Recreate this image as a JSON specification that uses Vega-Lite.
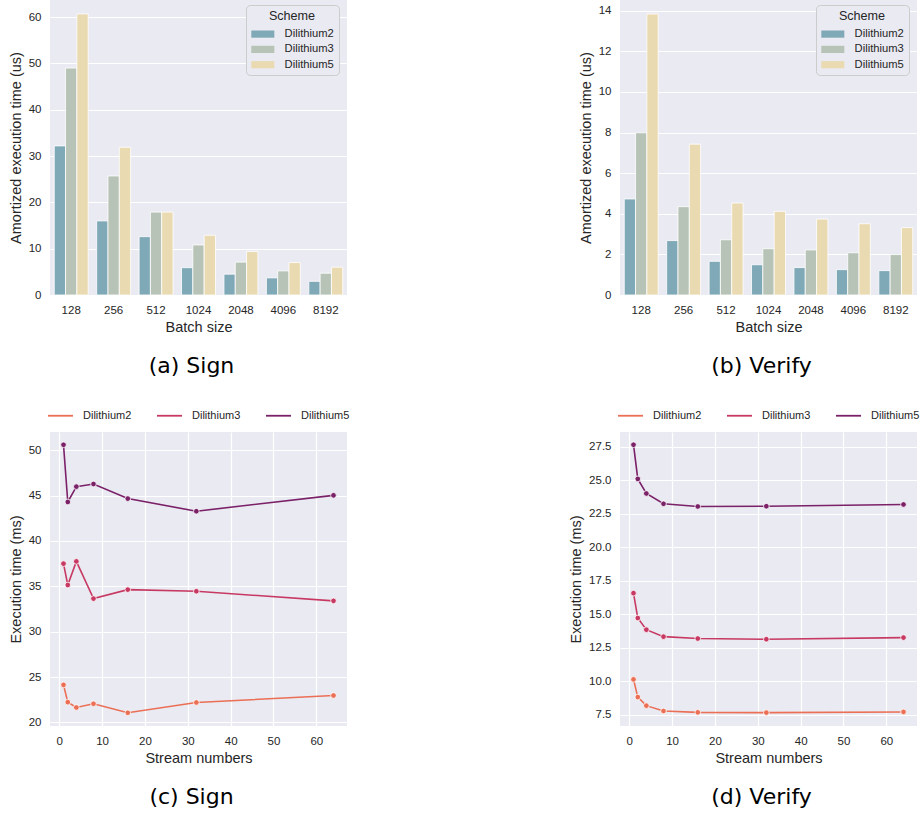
{
  "$schema": "https://vega.github.io/schema/vega-lite/v6.json",
  "padding": {"left": 8, "top": 0, "right": 0, "bottom": 0},
  "background": "white",
  "datasets": {
    "bars": [
      {"batch": "128", "scheme": "Dilithium2", "sign": 32.2, "verify": 4.73},
      {"batch": "128", "scheme": "Dilithium3", "sign": 49.0, "verify": 7.99},
      {"batch": "128", "scheme": "Dilithium5", "sign": 60.7, "verify": 13.84},
      {"batch": "256", "scheme": "Dilithium2", "sign": 16.0, "verify": 2.68},
      {"batch": "256", "scheme": "Dilithium3", "sign": 25.7, "verify": 4.35},
      {"batch": "256", "scheme": "Dilithium5", "sign": 31.9, "verify": 7.43},
      {"batch": "512", "scheme": "Dilithium2", "sign": 12.6, "verify": 1.66},
      {"batch": "512", "scheme": "Dilithium3", "sign": 17.9, "verify": 2.72},
      {"batch": "512", "scheme": "Dilithium5", "sign": 17.9, "verify": 4.53},
      {"batch": "1024", "scheme": "Dilithium2", "sign": 5.9, "verify": 1.49},
      {"batch": "1024", "scheme": "Dilithium3", "sign": 10.8, "verify": 2.28},
      {"batch": "1024", "scheme": "Dilithium5", "sign": 12.9, "verify": 4.12},
      {"batch": "2048", "scheme": "Dilithium2", "sign": 4.5, "verify": 1.35},
      {"batch": "2048", "scheme": "Dilithium3", "sign": 7.1, "verify": 2.22},
      {"batch": "2048", "scheme": "Dilithium5", "sign": 9.4, "verify": 3.74},
      {"batch": "4096", "scheme": "Dilithium2", "sign": 3.7, "verify": 1.25},
      {"batch": "4096", "scheme": "Dilithium3", "sign": 5.2, "verify": 2.08},
      {"batch": "4096", "scheme": "Dilithium5", "sign": 7.0, "verify": 3.51},
      {"batch": "8192", "scheme": "Dilithium2", "sign": 2.95, "verify": 1.2},
      {"batch": "8192", "scheme": "Dilithium3", "sign": 4.7, "verify": 1.99},
      {"batch": "8192", "scheme": "Dilithium5", "sign": 6.0, "verify": 3.32}
    ],
    "lines": [
      {"streams": 1, "scheme": "Dilithium2", "sign": 24.13, "verify": 10.13},
      {"streams": 2, "scheme": "Dilithium2", "sign": 22.23, "verify": 8.81},
      {"streams": 4, "scheme": "Dilithium2", "sign": 21.64, "verify": 8.17},
      {"streams": 8, "scheme": "Dilithium2", "sign": 22.05, "verify": 7.77},
      {"streams": 16, "scheme": "Dilithium2", "sign": 21.06, "verify": 7.67},
      {"streams": 32, "scheme": "Dilithium2", "sign": 22.19, "verify": 7.65},
      {"streams": 64, "scheme": "Dilithium2", "sign": 22.96, "verify": 7.7},
      {"streams": 1, "scheme": "Dilithium3", "sign": 37.49, "verify": 16.57},
      {"streams": 2, "scheme": "Dilithium3", "sign": 35.14, "verify": 14.71},
      {"streams": 4, "scheme": "Dilithium3", "sign": 37.74, "verify": 13.84},
      {"streams": 8, "scheme": "Dilithium3", "sign": 33.64, "verify": 13.32},
      {"streams": 16, "scheme": "Dilithium3", "sign": 34.63, "verify": 13.18},
      {"streams": 32, "scheme": "Dilithium3", "sign": 34.45, "verify": 13.13},
      {"streams": 64, "scheme": "Dilithium3", "sign": 33.39, "verify": 13.25},
      {"streams": 1, "scheme": "Dilithium5", "sign": 50.59, "verify": 27.65},
      {"streams": 2, "scheme": "Dilithium5", "sign": 44.29, "verify": 25.1},
      {"streams": 4, "scheme": "Dilithium5", "sign": 45.98, "verify": 24.01},
      {"streams": 8, "scheme": "Dilithium5", "sign": 46.27, "verify": 23.24},
      {"streams": 16, "scheme": "Dilithium5", "sign": 44.66, "verify": 23.04},
      {"streams": 32, "scheme": "Dilithium5", "sign": 43.27, "verify": 23.06},
      {"streams": 64, "scheme": "Dilithium5", "sign": 45.02, "verify": 23.19}
    ]
  },
  "bounds": "flush",
  "columns": 2,
  "spacing": {"row": 137, "column": 273},
  "concat": [
    {
      "width": 297, "height": 295,
      "data": {"name": "bars"},
      "title": {"text": "(a) Sign"},
      "mark": {"type": "bar", "stroke": "white", "strokeWidth": 0.8},
      "encoding": {
        "x": {"field": "batch", "type": "ordinal", "sort": ["128","256","512","1024","2048","4096","8192"], "scale": {"paddingInner": 0.2, "paddingOuter": 0.1}, "axis": {"title": "Batch size", "labelAngle": 0, "grid": false}},
        "xOffset": {"field": "scheme", "type": "nominal", "scale": {"paddingInner": 0, "paddingOuter": 0}},
        "y": {"field": "sign", "type": "quantitative", "scale": {"domain": [0, 63.7], "nice": false, "zero": true}, "axis": {"title": "Amortized execution time (us)", "values": [0,10,20,30,40,50,60]}},
        "color": {"field": "scheme", "type": "nominal", "scale": {"domain": ["Dilithium2","Dilithium3","Dilithium5"], "range": ["#80a9b8","#b6c3b6","#e9dab1"]},
          "legend": {"orient": "none", "legendX": 196, "legendY": 5, "title": "Scheme", "titleFontSize": 12.6, "titleFontWeight": "normal", "titleAnchor": "middle", "titleAlign": "center", "titlePadding": 4, "symbolType": "M-1,-0.5H2.2V0.5H-1Z", "symbolSize": 207, "symbolStrokeWidth": 0, "symbolOpacity": 1, "labelOffset": 18.6, "labelFontSize": 11.2, "rowPadding": 2.3, "padding": 5, "fillColor": "#eaeaf2", "strokeColor": "#cccccc", "cornerRadius": 4}}
      }
    },
    {
      "width": 297, "height": 295,
      "data": {"name": "bars"},
      "title": {"text": "(b) Verify"},
      "mark": {"type": "bar", "stroke": "white", "strokeWidth": 0.8},
      "encoding": {
        "x": {"field": "batch", "type": "ordinal", "sort": ["128","256","512","1024","2048","4096","8192"], "scale": {"paddingInner": 0.2, "paddingOuter": 0.1}, "axis": {"title": "Batch size", "labelAngle": 0, "grid": false}},
        "xOffset": {"field": "scheme", "type": "nominal", "scale": {"paddingInner": 0, "paddingOuter": 0}},
        "y": {"field": "verify", "type": "quantitative", "scale": {"domain": [0, 14.53], "nice": false, "zero": true}, "axis": {"title": "Amortized execution time (us)", "values": [0,2,4,6,8,10,12,14]}},
        "color": {"field": "scheme", "type": "nominal", "scale": {"domain": ["Dilithium2","Dilithium3","Dilithium5"], "range": ["#80a9b8","#b6c3b6","#e9dab1"]},
          "legend": {"orient": "none", "legendX": 196, "legendY": 5, "title": "Scheme", "titleFontSize": 12.6, "titleFontWeight": "normal", "titleAnchor": "middle", "titleAlign": "center", "titlePadding": 4, "symbolType": "M-1,-0.5H2.2V0.5H-1Z", "symbolSize": 207, "symbolStrokeWidth": 0, "symbolOpacity": 1, "labelOffset": 18.6, "labelFontSize": 11.2, "rowPadding": 2.3, "padding": 5, "fillColor": "#eaeaf2", "strokeColor": "#cccccc", "cornerRadius": 4}}
      }
    },
    {
      "width": 297, "height": 294,
      "data": {"name": "lines"},
      "title": {"text": "(c) Sign"},
      "encoding": {
        "x": {"field": "streams", "type": "quantitative", "scale": {"domain": [-2.15, 67.15], "nice": false, "zero": false}, "axis": {"title": "Stream numbers", "values": [0,10,20,30,40,50,60]}},
        "y": {"field": "sign", "type": "quantitative", "scale": {"domain": [19.6, 52.0], "nice": false, "zero": false}, "axis": {"title": "Execution time (ms)", "values": [20,25,30,35,40,45,50]}}
      },
      "layer": [
        {
          "mark": {"type": "line", "strokeWidth": 1.6},
          "encoding": {
            "color": {"field": "scheme", "type": "nominal", "scale": {"domain": ["Dilithium2","Dilithium3","Dilithium5"], "range": ["#eb6f55","#c73962","#7b2168"]},
              "legend": {"orient": "none", "legendX": -3, "legendY": -30, "direction": "horizontal", "title": null, "symbolType": "stroke", "symbolSize": 625, "symbolStrokeWidth": 1.8, "labelOffset": 9, "columnPadding": 21, "labelFontSize": 11, "padding": 0}}
          }
        },
        {
          "mark": {"type": "point", "filled": true, "size": 32, "stroke": "white", "strokeWidth": 0.8, "opacity": 1},
          "encoding": {
            "fill": {"field": "scheme", "type": "nominal", "scale": {"domain": ["Dilithium2","Dilithium3","Dilithium5"], "range": ["#eb6f55","#c73962","#7b2168"]}, "legend": null}
          }
        }
      ]
    },
    {
      "width": 297, "height": 294,
      "data": {"name": "lines"},
      "title": {"text": "(d) Verify"},
      "encoding": {
        "x": {"field": "streams", "type": "quantitative", "scale": {"domain": [-2.15, 67.15], "nice": false, "zero": false}, "axis": {"title": "Stream numbers", "values": [0,10,20,30,40,50,60]}},
        "y": {"field": "verify", "type": "quantitative", "scale": {"domain": [6.65, 28.6], "nice": false, "zero": false}, "axis": {"title": "Execution time (ms)", "values": [7.5,10,12.5,15,17.5,20,22.5,25,27.5], "format": ".1f"}}
      },
      "layer": [
        {
          "mark": {"type": "line", "strokeWidth": 1.6},
          "encoding": {
            "color": {"field": "scheme", "type": "nominal", "scale": {"domain": ["Dilithium2","Dilithium3","Dilithium5"], "range": ["#eb6f55","#c73962","#7b2168"]},
              "legend": {"orient": "none", "legendX": -3, "legendY": -30, "direction": "horizontal", "title": null, "symbolType": "stroke", "symbolSize": 625, "symbolStrokeWidth": 1.8, "labelOffset": 9, "columnPadding": 21, "labelFontSize": 11, "padding": 0}}
          }
        },
        {
          "mark": {"type": "point", "filled": true, "size": 32, "stroke": "white", "strokeWidth": 0.8, "opacity": 1},
          "encoding": {
            "fill": {"field": "scheme", "type": "nominal", "scale": {"domain": ["Dilithium2","Dilithium3","Dilithium5"], "range": ["#eb6f55","#c73962","#7b2168"]}, "legend": null}
          }
        }
      ]
    }
  ],
  "resolve": {"scale": {"color": "independent", "fill": "independent", "x": "independent", "y": "independent", "xOffset": "independent"}},
  "config": {
    "font": "Liberation Sans",
    "view": {"fill": "#eaeaf2", "stroke": null},
    "axis": {"domain": false, "ticks": false, "tickSize": 0, "gridColor": "white", "gridWidth": 1.2, "gridOpacity": 1, "labelFont": "Liberation Sans", "labelFontSize": 11.5, "labelColor": "#262626", "labelPadding": 9, "titleFont": "Liberation Sans", "titleFontSize": 14.5, "titleFontWeight": "normal", "titleColor": "#262626", "titlePadding": 5},
    "legend": {"labelFont": "Liberation Sans", "labelColor": "#262626", "titleFont": "Liberation Sans", "titleColor": "#262626"},
    "title": {"orient": "bottom", "anchor": "middle", "frame": "group", "font": "DejaVu Sans", "fontSize": 22, "fontWeight": "normal", "color": "black", "dx": -7, "offset": 22}
  }
}
